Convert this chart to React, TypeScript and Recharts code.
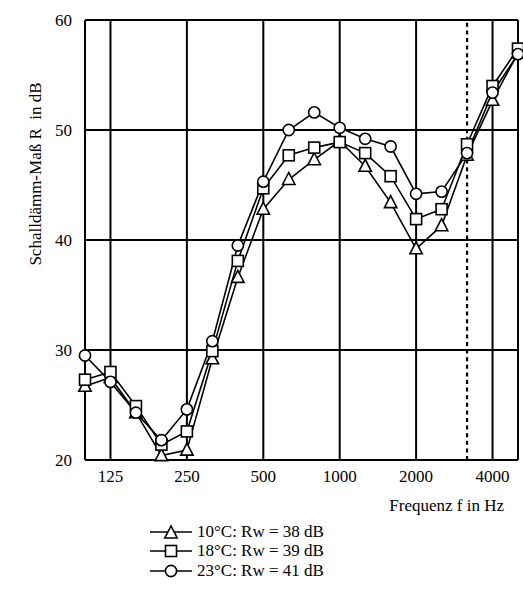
import { LineChart, Line, XAxis, YAxis, CartesianGrid, ReferenceLine, Label } from 'recharts'

const FONT = "'Liberation Serif', 'Times New Roman', serif"

// Terzbänder 100 Hz ... 5000 Hz
const BANDS = ['100', '125', '160', '200', '250', '315', '400', '500', '630', '800', '1000', '1250', '1600', '2000', '2500', '3150', '4000', '5000']
const R_10C = [26.7, 27.5, 24.3, 20.4, 20.9, 29.2, 36.6, 42.8, 45.5, 47.3, 49.0, 46.7, 43.4, 39.2, 41.3, 47.7, 52.7, 57.0]
const R_18C = [27.3, 28.0, 24.9, 21.4, 22.6, 29.9, 38.1, 44.7, 47.7, 48.4, 48.9, 47.9, 45.8, 41.9, 42.8, 48.7, 54.0, 57.4]
const R_23C = [29.5, 27.1, 24.3, 21.8, 24.6, 30.8, 39.5, 45.3, 50.0, 51.6, 50.2, 49.2, 48.5, 44.2, 44.4, 47.9, 53.4, 56.9]
const SERIES_NAMES = ['10°C: Rw = 38 dB', '18°C: Rw = 39 dB', '23°C: Rw = 41 dB']

const Y_TICKS = [20, 30, 40, 50, 60]
const X_TICKS = [0, 1, 4, 7, 10, 13, 16, 17]
const LABELED = ['125', '250', '500', '1000', '2000', '4000']
const REF_BAND = '3150'

const data = BANDS.map((f, i) => ({ i, f, r10: R_10C[i], r18: R_18C[i], r23: R_23C[i] }))

type DotProps = { cx?: number; cy?: number; index?: number }

function triangle(cx: number, cy: number) {
  return `${cx},${cy - 7} ${cx - 6.2},${cy + 5} ${cx + 6.2},${cy + 5}`
}

const TriangleDot = ({ cx, cy, index }: DotProps) =>
  cx == null || cy == null ? null : (
    <polygon key={index} points={triangle(cx, cy)} fill="#fff" stroke="#000" strokeWidth={1.6} />
  )

const SquareDot = ({ cx, cy, index }: DotProps) =>
  cx == null || cy == null ? null : (
    <rect key={index} x={cx - 5.5} y={cy - 5.5} width={11} height={11} fill="#fff" stroke="#000" strokeWidth={1.6} />
  )

const CircleDot = ({ cx, cy, index }: DotProps) =>
  cx == null || cy == null ? null : (
    <circle key={index} cx={cx} cy={cy} r={5.6} fill="#fff" stroke="#000" strokeWidth={1.6} />
  )

function LegendIcon({ kind }: { kind: number }) {
  return (
    <svg width={44} height={16} style={{ display: 'block' }}>
      <line x1={0} y1={8} x2={42} y2={8} stroke="#000" strokeWidth={1.6} />
      {kind === 0 && <polygon points={triangle(21, 9)} fill="#fff" stroke="#000" strokeWidth={1.6} />}
      {kind === 1 && <rect x={15.5} y={2.5} width={11} height={11} fill="#fff" stroke="#000" strokeWidth={1.6} />}
      {kind === 2 && <circle cx={21} cy={8} r={5.6} fill="#fff" stroke="#000" strokeWidth={1.6} />}
    </svg>
  )
}

export default function App() {
  const tickStyle = { fill: '#000', fontSize: 17, fontFamily: FONT }
  return (
    <div style={{ position: 'absolute', left: 0, top: 0, width: 523, height: 599, background: '#fff' }}>
      <LineChart width={523} height={599} data={data} margin={{ top: 20, right: 5, left: 0, bottom: 0 }}>
        <CartesianGrid stroke="#000" strokeWidth={2} strokeOpacity={1} />
        <XAxis
          dataKey="i"
          type="number"
          domain={[0, 17]}
          ticks={X_TICKS}
          tickFormatter={(v: number) => (LABELED.includes(BANDS[v]) ? BANDS[v] : '')}
          tick={tickStyle}
          tickLine={false}
          axisLine={false}
          tickMargin={4}
          height={139}
        >
          <Label
            content={() => (
              <text x={504} y={511} textAnchor="end" fontSize={17} fontFamily={FONT} fill="#000">
                Frequenz f in Hz
              </text>
            )}
          />
        </XAxis>
        <YAxis
          type="number"
          domain={[20, 60]}
          ticks={Y_TICKS}
          tick={tickStyle}
          tickLine={false}
          axisLine={false}
          tickMargin={7}
          width={85}
          interval={0}
        >
          <Label
            content={() => (
              <text
                x={35}
                y={174}
                transform="rotate(-90 35 174)"
                textAnchor="middle"
                dominantBaseline="central"
                fontSize={17}
                fontFamily={FONT}
                fill="#000"
                style={{ whiteSpace: 'pre' }}
              >
                {'Schalldämm-Maß R  in dB'}
              </text>
            )}
          />
        </YAxis>
        <ReferenceLine x={BANDS.indexOf(REF_BAND)} stroke="#000" strokeWidth={2.2} strokeDasharray="4 3.6" />
        <Line dataKey="r10" stroke="#000" strokeWidth={1.6} dot={TriangleDot} isAnimationActive={false} />
        <Line dataKey="r18" stroke="#000" strokeWidth={1.6} dot={SquareDot} isAnimationActive={false} />
        <Line dataKey="r23" stroke="#000" strokeWidth={1.6} dot={CircleDot} isAnimationActive={false} />
      </LineChart>
      <div style={{ position: 'absolute', left: 150, top: 522, fontFamily: FONT, fontSize: 17 }}>
        {SERIES_NAMES.map((name, k) => (
          <div key={name} style={{ display: 'flex', alignItems: 'center', height: 19.5 }}>
            <LegendIcon kind={k} />
            <span style={{ marginLeft: 3, whiteSpace: 'nowrap' }}>{name}</span>
          </div>
        ))}
      </div>
    </div>
  )
}
